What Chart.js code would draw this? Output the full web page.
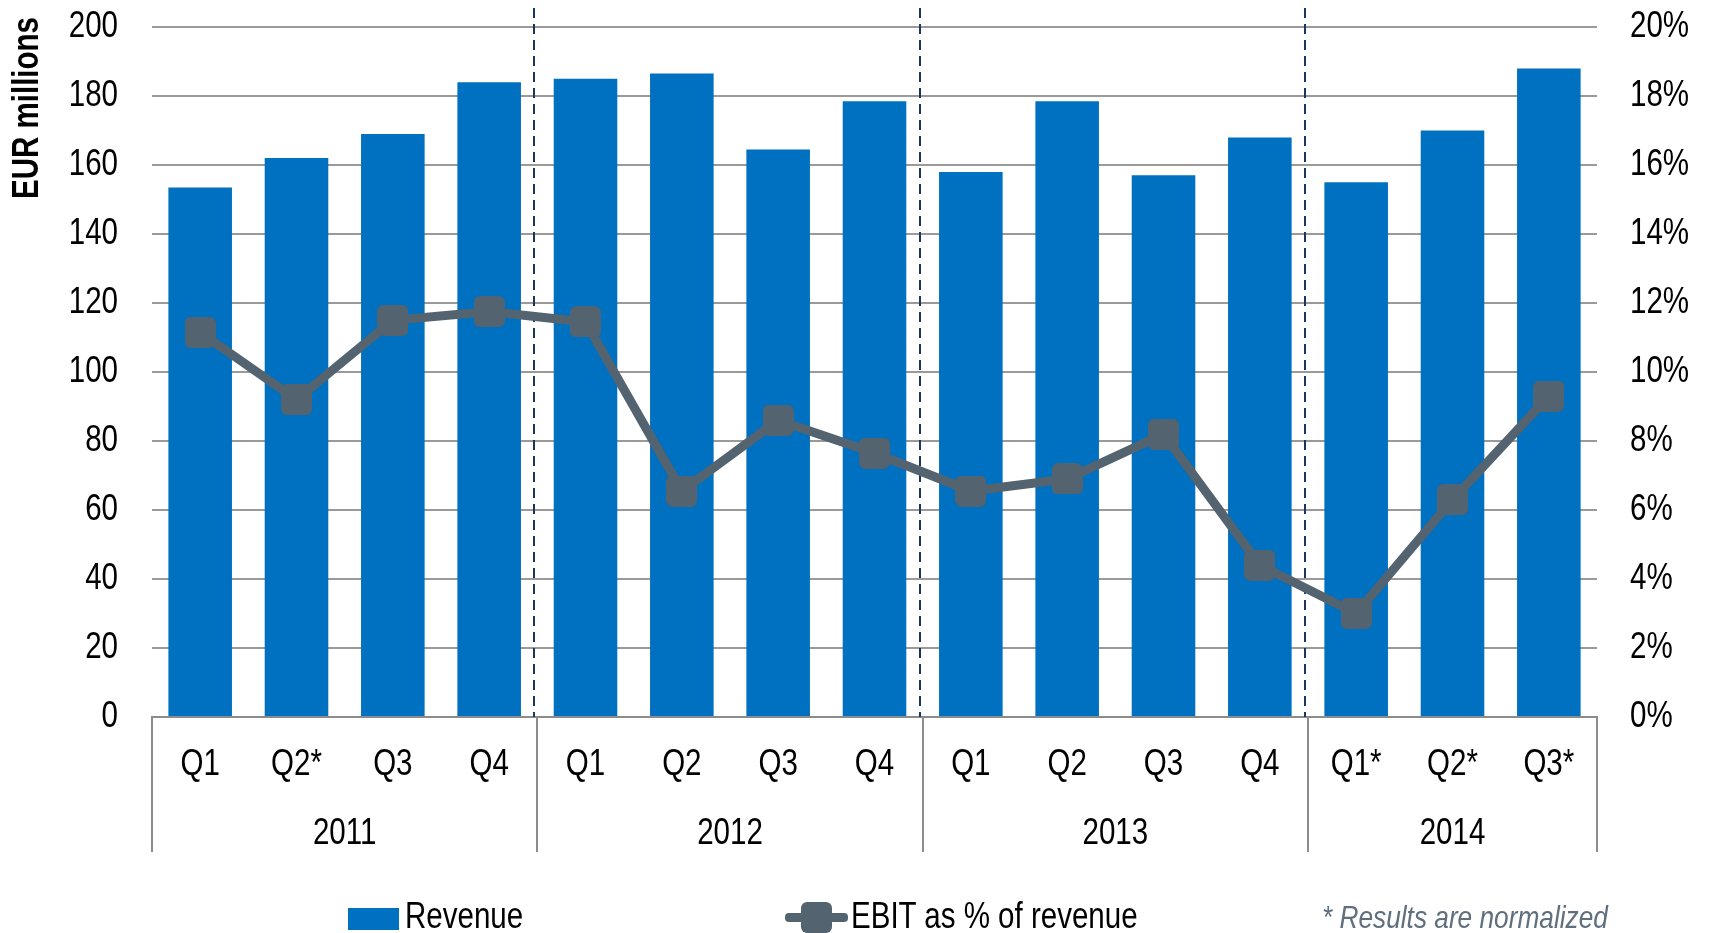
<!DOCTYPE html>
<html><head><meta charset="utf-8">
<script src="https://cdn.jsdelivr.net/npm/chart.js@4.4.0/dist/chart.umd.min.js"></script>
<style>
html,body{margin:0;padding:0;background:#fff;overflow:hidden}
#wrap{position:relative;width:1710px;height:933px}
canvas{position:absolute;left:0;top:0}
.leg{position:absolute;font-family:"Liberation Sans",Arial,sans-serif;font-size:36px;color:#000;line-height:36px;white-space:nowrap}
.nar{display:inline-block;transform:scaleX(0.82);transform-origin:0 50%}
</style></head>
<body><div id="wrap"><canvas id="c" width="1710" height="933"></canvas>
<div class="leg" style="left:348px;top:898px"><span style="display:inline-block;width:51px;height:22px;background:#0070c0;vertical-align:-2px;margin-right:6px"></span><span class="nar">Revenue</span></div>
<div class="leg" style="left:785px;top:898px"><span style="display:inline-block;position:relative;width:63px;height:30px;vertical-align:-4px;margin-right:3px"><span style="position:absolute;left:0;top:11px;width:63px;height:9px;background:#53636f;border-radius:4px"></span><span style="position:absolute;left:16px;top:0;width:31px;height:31px;background:#53636f;border-radius:6px"></span></span><span class="nar">EBIT as % of revenue</span></div>
<div class="leg" style="left:1322px;top:899px;font-size:32px;font-style:italic;color:#5f6f7e"><span class="nar">* Results are normalized</span></div>
</div>
<script>
// ---- data ----
const quarters = ['Q1','Q2*','Q3','Q4','Q1','Q2','Q3','Q4','Q1','Q2','Q3','Q4','Q1*','Q2*','Q3*'];
const years = ['2011','2012','2013','2014'];
const quartersPerYear = [4,4,4,3];
const revenue = [153.5,162,169,184,185,186.5,164.5,178.5,158,178.5,157,168,155,170,188];
const ebitPct = [11.15,9.2,11.5,11.75,11.45,6.55,8.6,7.65,6.55,6.9,8.2,4.4,3.0,6.3,9.3];
const leftMax = 200, leftStep = 20;
const rightMax = 20, rightStep = 2;

const FAM = '"Liberation Sans", Arial, sans-serif';
Chart.defaults.font.family = FAM;
Chart.defaults.color = '#000';

// condensed text (reference uses a narrow face): compress canvas text horizontally
const canvas = document.getElementById('c');
const ctx0 = canvas.getContext('2d');
const origFill = ctx0.fillText.bind(ctx0);
const NARROW = 0.82;
ctx0.fillText = function(t, x, y, mw){
  this.save();
  this.translate(x, y);
  this.scale(NARROW, 1);
  if (mw === undefined || mw === null) origFill(t, 0, 0); else origFill(t, 0, 0, mw / NARROW);
  this.restore();
};

// ---- marker ----
const mk = document.createElement('canvas');
mk.width = 31; mk.height = 31;
(function(){
  const g = mk.getContext('2d');
  g.fillStyle = '#53636f';
  g.beginPath();
  if (g.roundRect) g.roundRect(0,0,31,31,6); else g.rect(0,0,31,31);
  g.fill();
})();

const extras = {
  id: 'extras',
  beforeDatasetsDraw(chart){
    const x = chart.scales.x, a = chart.chartArea, ctx = chart.ctx;
    ctx.save();
    ctx.strokeStyle = '#17375e';
    ctx.lineWidth = 2;
    ctx.setLineDash([10,6]);
    let idx = 0;
    for (let i = 0; i < quartersPerYear.length - 1; i++){
      idx += quartersPerYear[i];
      const px = Math.round((x.getPixelForValue(idx-1) + x.getPixelForValue(idx))/2) - 3;
      ctx.beginPath(); ctx.moveTo(px, 8); ctx.lineTo(px, a.bottom); ctx.stroke();
    }
    ctx.restore();
  },
  afterDraw(chart){
    const x = chart.scales.x, a = chart.chartArea, ctx = chart.ctx;
    ctx.save();
    const bounds = [a.left];
    let idx = 0;
    for (let i = 0; i < quartersPerYear.length; i++){
      idx += quartersPerYear[i];
      bounds.push(idx >= quarters.length ? a.right : (x.getPixelForValue(idx-1) + x.getPixelForValue(idx))/2);
    }
    ctx.strokeStyle = '#8c8c8c';
    ctx.lineWidth = 2;
    bounds.forEach(b => { ctx.beginPath(); ctx.moveTo(Math.round(b), a.bottom); ctx.lineTo(Math.round(b), 852); ctx.stroke(); });
    ctx.fillStyle = '#000';
    ctx.font = '36px ' + FAM;
    ctx.textAlign = 'center';
    ctx.textBaseline = 'middle';
    years.forEach((y, i) => ctx.fillText(y, (bounds[i] + bounds[i+1])/2, 834));
    ctx.translate(28, 108);
    ctx.rotate(-Math.PI/2);
    ctx.font = 'bold 36px ' + FAM;
    ctx.fillText('EUR millions', 0, 0);
    ctx.restore();
  }
};

const noPad = s => { s.paddingTop = 0; s.paddingBottom = 0; };

new Chart(canvas, {
  type: 'bar',
  data: {
    labels: quarters,
    datasets: [
      { type: 'line', label: 'EBIT as % of revenue', data: ebitPct, yAxisID: 'y1',
        borderColor: '#53636f', borderWidth: 9, pointStyle: mk, pointRadius: 15,
        pointHoverRadius: 15, backgroundColor: '#53636f', tension: 0, order: 0 },
      { type: 'bar', label: 'Revenue', data: revenue, yAxisID: 'y',
        backgroundColor: '#0070c0', barPercentage: 0.66, categoryPercentage: 1, order: 1 }
    ]
  },
  options: {
    responsive: false,
    animation: false,
    devicePixelRatio: 1,
    layout: { padding: { top: 27, left: 0, right: 0, bottom: 0 } },
    plugins: { legend: { display: false }, tooltip: { enabled: false } },
    scales: {
      x: {
        grid: { display: false, drawTicks: false },
        border: { display: true, color: '#8c8c8c', width: 2 },
        ticks: { font: { size: 36 }, color: '#000', padding: 26, maxRotation: 0, autoSkip: false },
        afterFit: s => { s.height = 933 - 717; }
      },
      y: {
        position: 'left', min: 0, max: leftMax,
        ticks: { stepSize: leftStep, padding: 34, font: { size: 36 }, color: '#000' },
        grid: { color: '#9a9a9a', lineWidth: 2, drawTicks: false },
        border: { display: false },
        afterFit: s => { s.width = 152; noPad(s); }
      },
      y1: {
        position: 'right', min: 0, max: rightMax,
        ticks: { stepSize: rightStep, padding: 33, font: { size: 36 }, color: '#000', callback: v => v + '%' },
        grid: { display: false, drawTicks: false },
        border: { display: false },
        afterFit: s => { s.width = 113; noPad(s); }
      }
    }
  },
  plugins: [extras]
});
</script>
</body></html>
